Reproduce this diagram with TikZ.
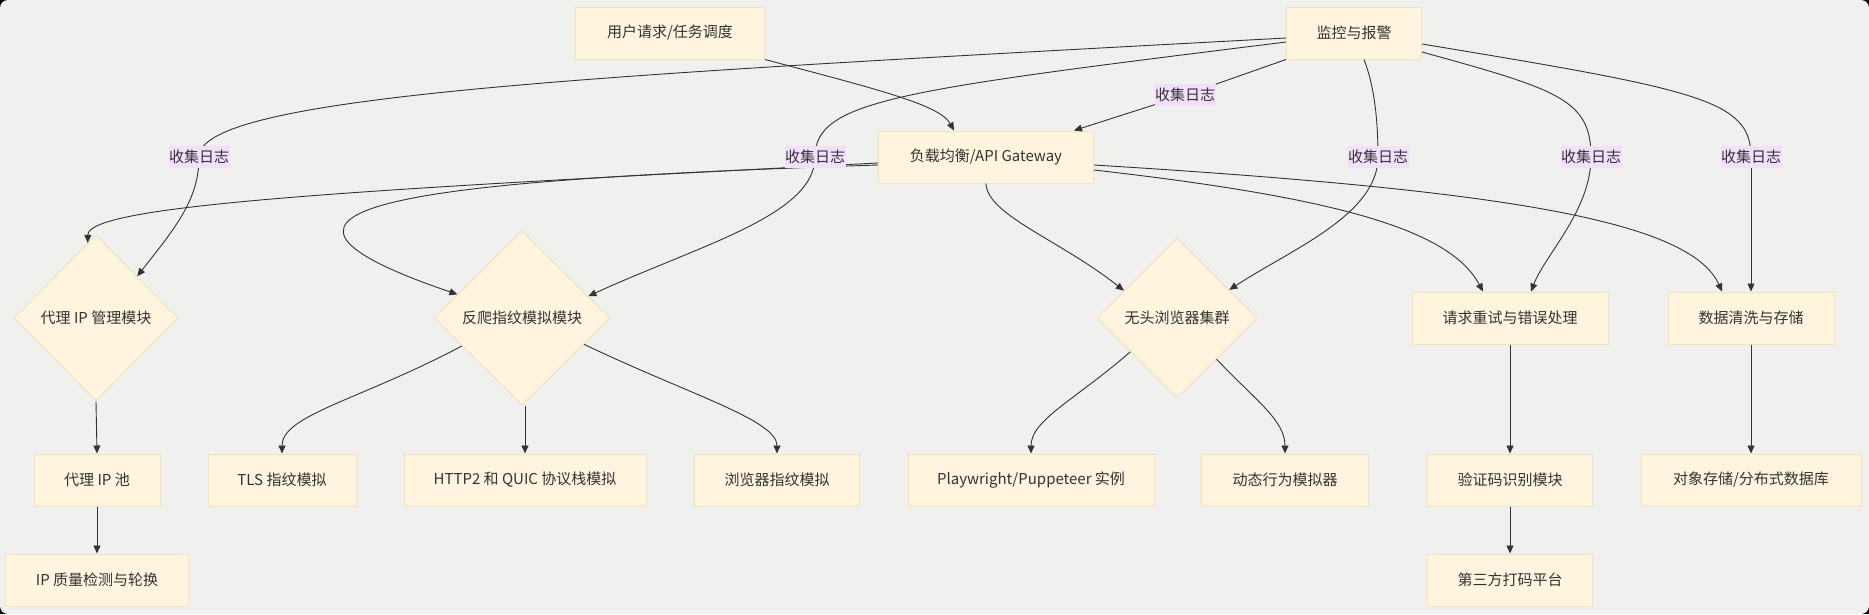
\documentclass[tikz,border=0pt]{standalone}
\usepackage{fontspec}
\setmainfont{Noto Sans CJK SC}
\usetikzlibrary{shapes.geometric,arrows.meta,calc}
\definecolor{bgc}{HTML}{F0F0EE}
\definecolor{nodefill}{HTML}{FFF4DD}
\definecolor{nodedraw}{HTML}{F2E2BE}
\definecolor{labfill}{HTML}{F2DFFB}
\definecolor{edgec}{HTML}{333333}
\definecolor{txtc}{HTML}{333333}
\begin{document}
\begin{tikzpicture}[x=1pt,y=-1pt,
  txt/.style={text=txtc, font=\fontsize{15pt}{18pt}\selectfont},
  box/.style={txt, rectangle, draw=nodedraw, fill=nodefill, line width=1pt, minimum height=52pt, inner sep=0pt},
  dia/.style={txt, diamond, draw=nodedraw, fill=nodefill, line width=1pt, inner sep=0pt},
  lab/.style={txt, fill=labfill, inner sep=0pt, minimum width=61pt, minimum height=22pt},
  edge/.style={draw=edgec, line width=0.9pt, -{Triangle[length=8pt,width=7pt]}},
  link/.style={draw=edgec, line width=0.9pt}]
\fill[black] (0,0) rectangle (1869,614);
\fill[bgc, rounded corners=8pt] (0,0) rectangle (1869,614);
\useasboundingbox (0,0) rectangle (1869,614);

% nodes
\node[box, minimum width=189pt] (req) at (670,33) {用户请求/任务调度};
\node[box, minimum width=135pt] (mon) at (1354,33) {监控与报警};
\node[box, minimum width=215pt] (lb) at (986,157) {负载均衡/API Gateway};
\node[dia, minimum width=164pt, minimum height=166pt] (proxy) at (96,318) {代理 IP 管理模块};
\node[dia, minimum width=176pt, minimum height=174pt] (anti) at (522,318) {反爬指纹模拟模块};
\node[dia, minimum width=160pt, minimum height=160pt] (head) at (1177,318) {无头浏览器集群};
\node[box, minimum width=196pt] (retry) at (1510,318) {请求重试与错误处理};
\node[box, minimum width=166pt] (clean) at (1751,318) {数据清洗与存储};
\node[box, minimum width=126pt] (pool) at (97,480) {代理 IP 池};
\node[box, minimum width=148pt] (tls) at (282,480) {TLS 指纹模拟};
\node[box, minimum width=242pt] (http) at (525,480) {HTTP2 和 QUIC 协议栈模拟};
\node[box, minimum width=165pt] (bfp) at (777,480) {浏览器指纹模拟};
\node[box, minimum width=246pt] (pw) at (1031,480) {Playwright/Puppeteer 实例};
\node[box, minimum width=167pt] (dyn) at (1285,480) {动态行为模拟器};
\node[box, minimum width=165pt] (cap) at (1510,480) {验证码识别模块};
\node[box, minimum width=165pt] (third) at (1510,580) {第三方打码平台};
\node[box, minimum width=220pt] (store) at (1751,480) {对象存储/分布式数据库};
\node[box, minimum width=183pt] (ipq) at (97,580) {IP 质量检测与轮换};

% label positions
\coordinate (c1) at (199,157);
\coordinate (c2) at (815,157);
\coordinate (c3) at (1185,95);
\coordinate (c4) at (1378,157);
\coordinate (c5) at (1591,157);
\coordinate (c6) at (1751,157);

% edges
\draw[edge] (req.south east) .. controls (880,90) and (940,105) .. ($(lb.north)+(-32,0)$);

\draw[link] (mon.south west) -- (c3);
\draw[edge] (c3) -- ($(lb.north east)+(-20,0)$);

\draw[link] ($(mon.west)+(0,5)$) .. controls (600,75) and (199,95) .. (c1);
\draw[edge] (c1) .. controls (199,200) and (175,228) .. (proxy.north east);

\draw[link] ($(mon.west)+(0,9)$) .. controls (900,90) and (815,100) .. (c2);
\draw[edge] (c2) .. controls (815,215) and (700,245) .. ($(anti.north east)!0.5!(anti.east)$);

\draw[link] ($(mon.south)+(10,0)$) .. controls (1372,80) and (1378,110) .. (c4);
\draw[edge] (c4) .. controls (1378,215) and (1290,250) .. ($(head.north east)!0.3!(head.east)$);

\draw[link] ($(mon.east)+(0,19)$) .. controls (1560,90) and (1591,100) .. (c5);
\draw[edge] (c5) .. controls (1591,210) and (1545,255) .. ($(retry.north)+(21,0)$);

\draw[link] ($(mon.east)+(0,11)$) .. controls (1700,90) and (1751,100) .. (c6);
\draw[edge] (c6) -- (clean.north);

\draw[edge] ($(lb.west)+(0,6)$) .. controls (350,190) and (88,205) .. ($(proxy.north)!0.1!(proxy.west)$);
\draw[edge] ($(lb.west)+(0,8)$) .. controls (420,180) and (195,205) .. ($(anti.north)!0.73!(anti.west)$);
\draw[edge] (lb.south) .. controls (987,215) and (1060,240) .. ($(head.north)!0.66!(head.west)$);
\draw[edge] ($(lb.east)+(0,13)$) .. controls (1340,198) and (1450,230) .. ($(retry.north)+(-27,0)$);
\draw[edge] ($(lb.east)+(0,8)$) .. controls (1500,190) and (1690,220) .. ($(clean.north)+(-29,0)$);

\draw[edge] (proxy.south) -- (pool.north);
\draw[edge] (pool.south) -- (ipq.north);
\draw[edge] (anti.south -| http.north) -- (http.north);
\draw[edge] ($(anti.west)!0.32!(anti.south)$) .. controls (360,400) and (282,415) .. (tls.north);
\draw[edge] ($(anti.east)!0.3!(anti.south)$) .. controls (690,395) and (777,420) .. (bfp.north);
\draw[edge] ($(head.west)!0.42!(head.south)$) .. controls (1075,400) and (1031,420) .. (pw.north);
\draw[edge] ($(head.east)!0.51!(head.south)$) .. controls (1255,400) and (1285,420) .. (dyn.north);
\draw[edge] (retry.south) -- (cap.north);
\draw[edge] (cap.south) -- (third.north);
\draw[edge] (clean.south) -- (store.north);

% labels
\node[lab] (l1) at (c1) {收集日志};
\node[lab] (l2) at (c2) {收集日志};
\node[lab] (l3) at (c3) {收集日志};
\node[lab] (l4) at (c4) {收集日志};
\node[lab] (l5) at (c5) {收集日志};
\node[lab] (l6) at (c6) {收集日志};
\end{tikzpicture}
\end{document}
